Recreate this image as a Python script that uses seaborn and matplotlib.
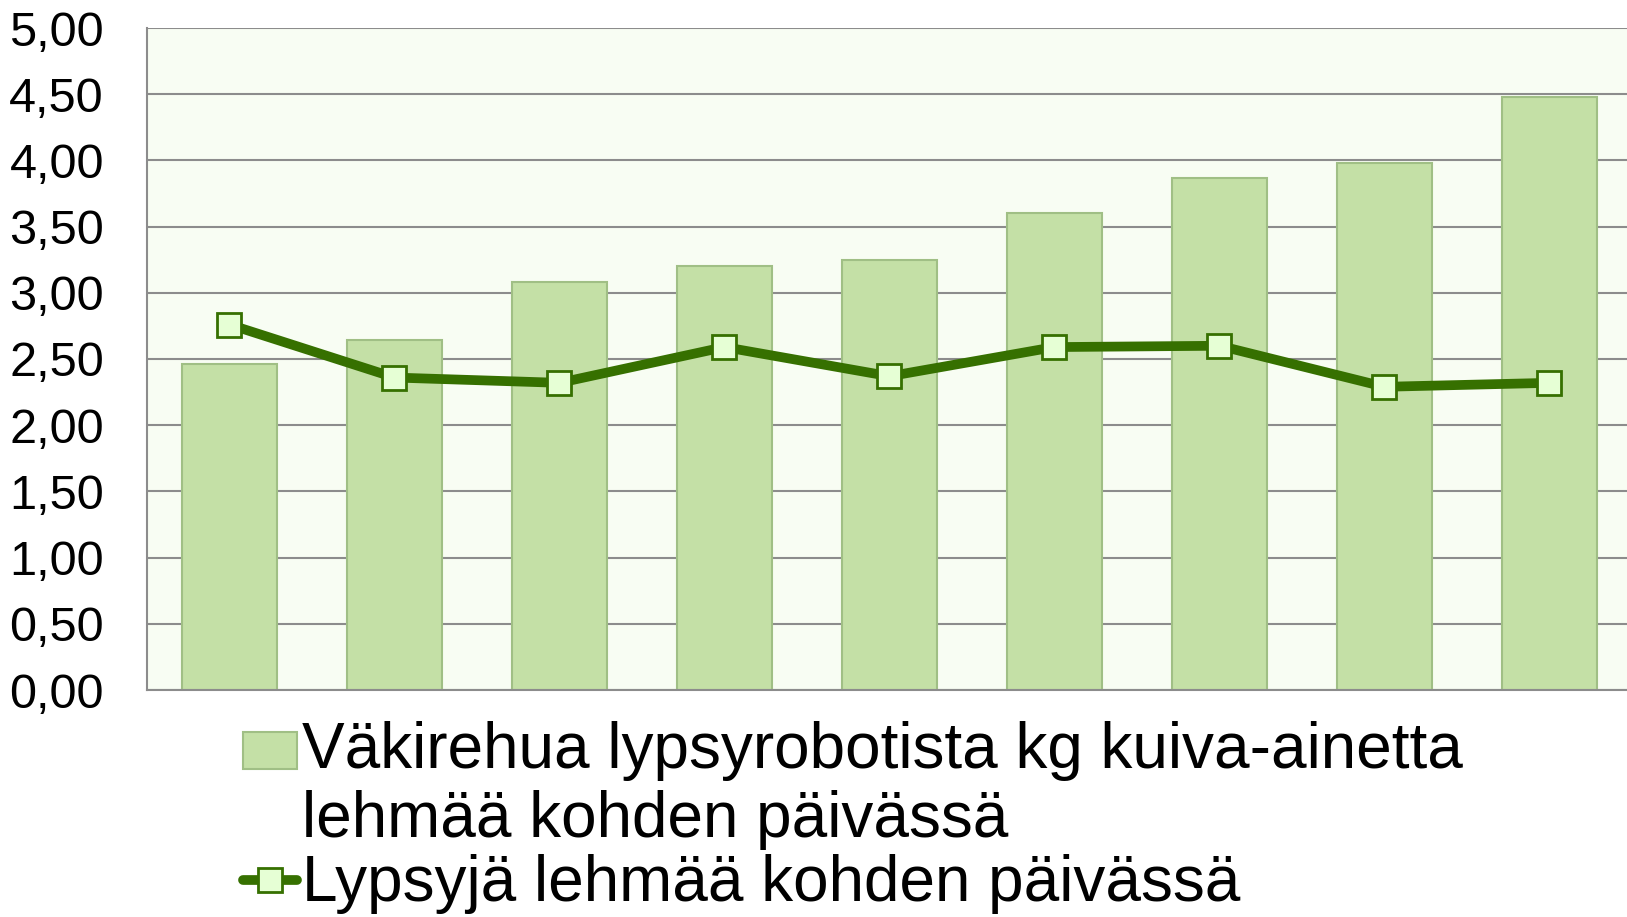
import numpy as np
import pandas as pd
import matplotlib
matplotlib.use("Agg")
import matplotlib.pyplot as plt
import seaborn as sns
from matplotlib.ticker import FuncFormatter
from matplotlib.patches import Rectangle
from matplotlib.container import BarContainer
from matplotlib.legend_handler import HandlerPatch

# data (no x labels shown)
periods = ["1", "2", "3", "4", "5", "6", "7", "8", "9"]
concentrate_kg = [2.46, 2.64, 3.08, 3.20, 3.25, 3.60, 3.87, 3.98, 4.48]
milkings = [2.76, 2.36, 2.32, 2.59, 2.37, 2.59, 2.60, 2.29, 2.32]

bar_label = "Väkirehua lypsyrobotista kg kuiva-ainetta\nlehmää kohden päivässä"
line_label = "Lypsyjä lehmää kohden päivässä"

BAR_FILL = "#C4E0A6"
BAR_EDGE = "#A0BF85"
LINE_COL = "#367000"
MARK_FILL = "#E6FFD5"
BG = "#F8FDF3"
GRID = "#8C8C8C"

sns.set_style("white")
plt.rcParams["font.family"] = ["Liberation Sans", "DejaVu Sans"]
plt.rcParams["text.color"] = "black"

df = pd.DataFrame({"period": periods, "feed": concentrate_kg, "milk": milkings})

fig = plt.figure(figsize=(16.27, 9.17), dpi=100)
ax = fig.add_axes([147 / 1627, 1 - 690 / 917, 1 - 147 / 1627, (690 - 28) / 917])
ax.set_facecolor(BG)

sns.barplot(data=df, x="period", y="feed", color=BAR_FILL, saturation=1,
            width=0.58, edgecolor=BAR_EDGE, linewidth=1.5, ax=ax,
            label=bar_label, zorder=2)
sns.pointplot(data=df, x="period", y="milk", color=LINE_COL, markers="s",
              linewidth=7, markersize=17, markerfacecolor=MARK_FILL,
              markeredgecolor=LINE_COL, markeredgewidth=2, ax=ax,
              label=line_label, zorder=3)

ax.set_ylim(0, 5)
ax.set_xlim(-0.5, 8.47)
ax.set_yticks(np.arange(0, 5.01, 0.5))
ax.yaxis.set_major_formatter(FuncFormatter(lambda v, p: f"{v:.2f}".replace(".", ",")))
ax.grid(axis="y", color=GRID, linewidth=1.5, zorder=0)
ax.set_axisbelow(True)
ax.set_xticks([])
ax.set_xlabel("")
ax.set_ylabel("")
ax.tick_params(axis="y", length=0, pad=31, labelsize=35, labelcolor="black")
for s in ["top", "right"]:
    ax.spines[s].set_visible(False)
for s in ["left", "bottom"]:
    ax.spines[s].set_color(GRID)
    ax.spines[s].set_linewidth(1.5)


def top_patch(legend, orig_handle, xdescent, ydescent, width, height, fontsize):
    # put the swatch beside the first line of the two-line label
    return Rectangle((-xdescent, -ydescent + 0.57 * fontsize), width, height)


handles, labels = ax.get_legend_handles_labels()
order = [labels.index(bar_label), labels.index(line_label)]
leg_handles = []
for i in order:
    h = handles[i]
    if isinstance(h, BarContainer):
        h = h.patches[0]
    leg_handles.append(h)

leg = fig.legend(leg_handles, [labels[i] for i in order],
                 loc="upper left", bbox_to_anchor=(243 / 1627, 1 - 721 / 917),
                 frameon=False, fontsize=46, labelcolor="black",
                 handlelength=0.85, handleheight=0.52, handletextpad=0.08,
                 labelspacing=0.05, borderpad=0, borderaxespad=0,
                 handler_map={Rectangle: HandlerPatch(patch_func=top_patch)})
if ax.get_legend():
    ax.get_legend().remove()

fig.savefig("out.png", dpi=100, facecolor="white")
